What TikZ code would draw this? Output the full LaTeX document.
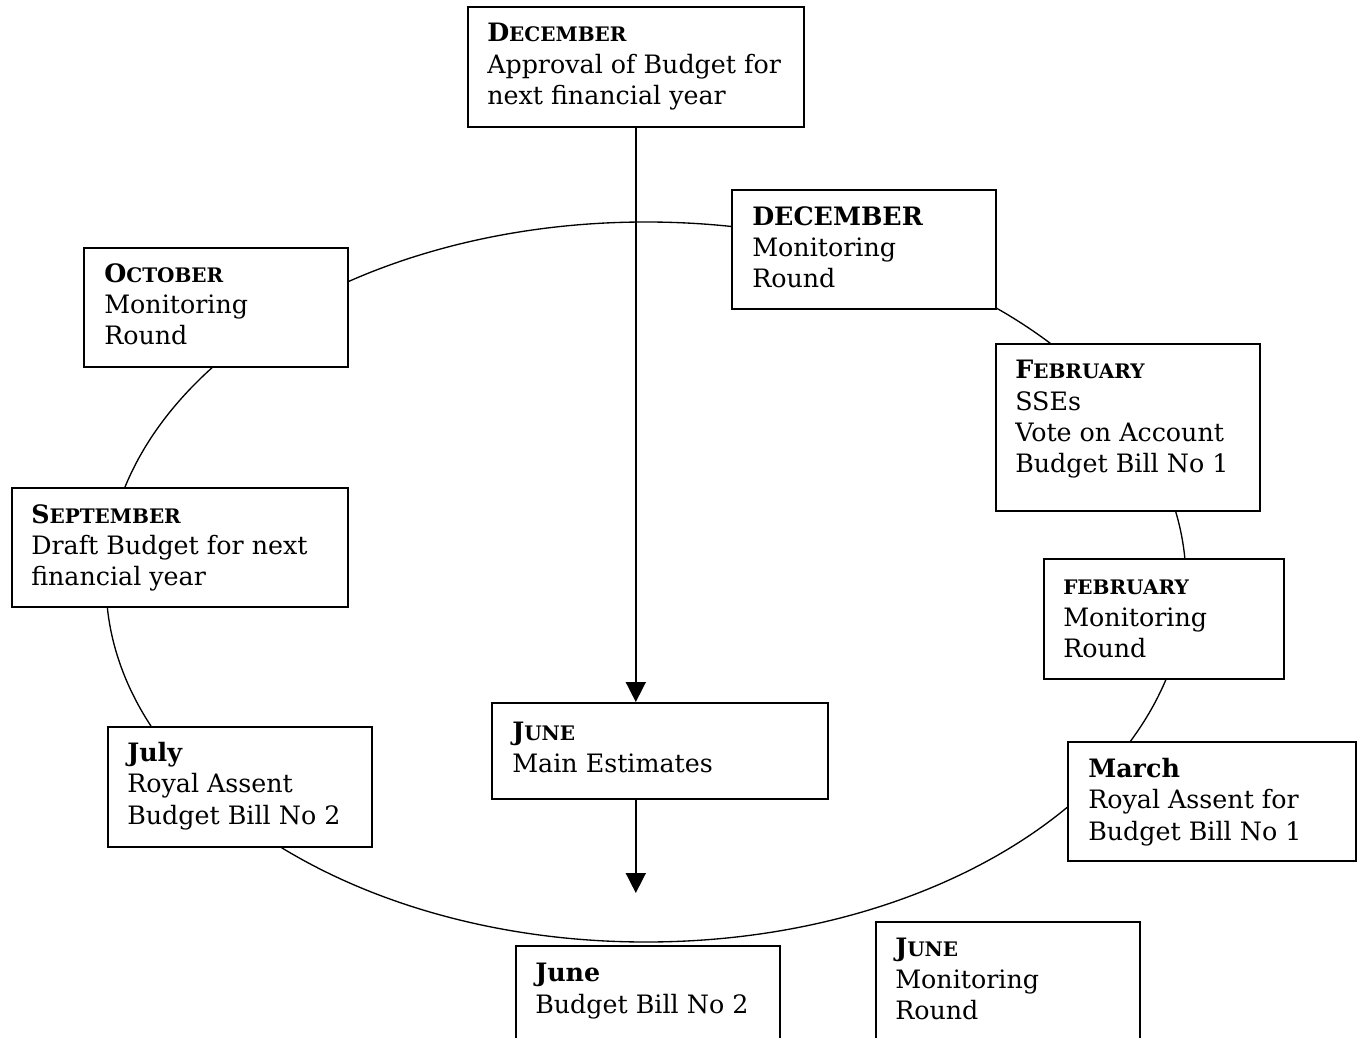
\documentclass[tikz,border=0pt]{standalone}
\usepackage{fontspec}
\setmainfont{DejaVu Serif}
\usepackage{tikz}
\usetikzlibrary{arrows.meta}

\newcommand{\scmonth}[2]{\textbf{#1{\fontsize{15}{15}\selectfont #2}}}

\begin{document}
\begin{tikzpicture}[x=0.75pt, y=-0.75pt,
    month_box/.style={draw, fill=white, line width=1.2pt, inner sep=0pt, anchor=north west},
    box_text/.style={anchor=north west, align=left, inner sep=0pt, font=\fontsize{19}{23.5}\selectfont},
    flow_arrow/.style={line width=1.2pt, -{Triangle[width=15pt, length=15pt]}}]

    \useasboundingbox (0,0) rectangle (1360,1038);

    % the yearly cycle
    \draw[line width=1pt] (646,582) ellipse [x radius=540, y radius=360];

    \node[month_box, minimum width=252pt, minimum height=90pt] (1) at (467,6) {};
    \node[month_box, minimum width=198pt, minimum height=89.25pt] (2) at (731,189) {};
    \node[month_box, minimum width=198pt, minimum height=125.25pt] (3) at (995,343) {};
    \node[month_box, minimum width=180pt, minimum height=90pt] (4) at (1043,558) {};
    \node[month_box, minimum width=216pt, minimum height=89.25pt] (5) at (1067,741) {};
    \node[month_box, minimum width=198pt, minimum height=90pt] (6) at (875,921) {};
    \node[month_box, minimum width=198pt, minimum height=90pt] (7) at (515,945) {};
    \node[month_box, minimum width=252pt, minimum height=72pt] (8) at (491,702) {};
    \node[month_box, minimum width=198pt, minimum height=90pt] (9) at (107,726) {};
    \node[month_box, minimum width=252pt, minimum height=89.25pt] (10) at (11,487) {};
    \node[month_box, minimum width=198pt, minimum height=89.25pt] (11) at (83,247) {};

    \node[box_text] (1t) at ([shift={(20,17)}]1.north west) {\scmonth{D}{ECEMBER}\\Approval of Budget for\\next financial year};
    \node[box_text] (2t) at ([shift={(21,17)}]2.north west) {\textbf{DECEMBER}\\Monitoring\\Round};
    \node[box_text] (3t) at ([shift={(20,17)}]3.north west) {\scmonth{F}{EBRUARY}\\SSEs\\Vote on Account\\Budget Bill No 1};
    \node[box_text] (4t) at ([shift={(20,22)}]4.north west) {\textbf{\fontsize{15}{15}\selectfont FEBRUARY}\\Monitoring\\Round};
    \node[box_text] (5t) at ([shift={(21,17)}]5.north west) {\textbf{March}\\Royal Assent for\\Budget Bill No 1};
    \node[box_text] (6t) at ([shift={(20,17)}]6.north west) {\scmonth{J}{UNE}\\Monitoring\\Round};
    \node[box_text] (7t) at ([shift={(20,18)}]7.north west) {\textbf{June}\\Budget Bill No 2};
    \node[box_text] (8t) at ([shift={(21,20)}]8.north west) {\scmonth{J}{UNE}\\Main Estimates};
    \node[box_text] (9t) at ([shift={(20,16)}]9.north west) {\textbf{July}\\Royal Assent\\Budget Bill No 2};
    \node[box_text] (10t) at ([shift={(20,17)}]10.north west) {\scmonth{S}{EPTEMBER}\\Draft Budget for next\\financial year};
    \node[box_text] (11t) at ([shift={(21,16)}]11.north west) {\scmonth{O}{CTOBER}\\Monitoring\\Round};

    \coordinate (arrow_end) at (1.south |- 0,893);
    \draw[flow_arrow] (1.south) -- (1.south |- 8.north);
    \draw[flow_arrow] (8.south -| 1.south) -- (arrow_end);
\end{tikzpicture}
\end{document}
